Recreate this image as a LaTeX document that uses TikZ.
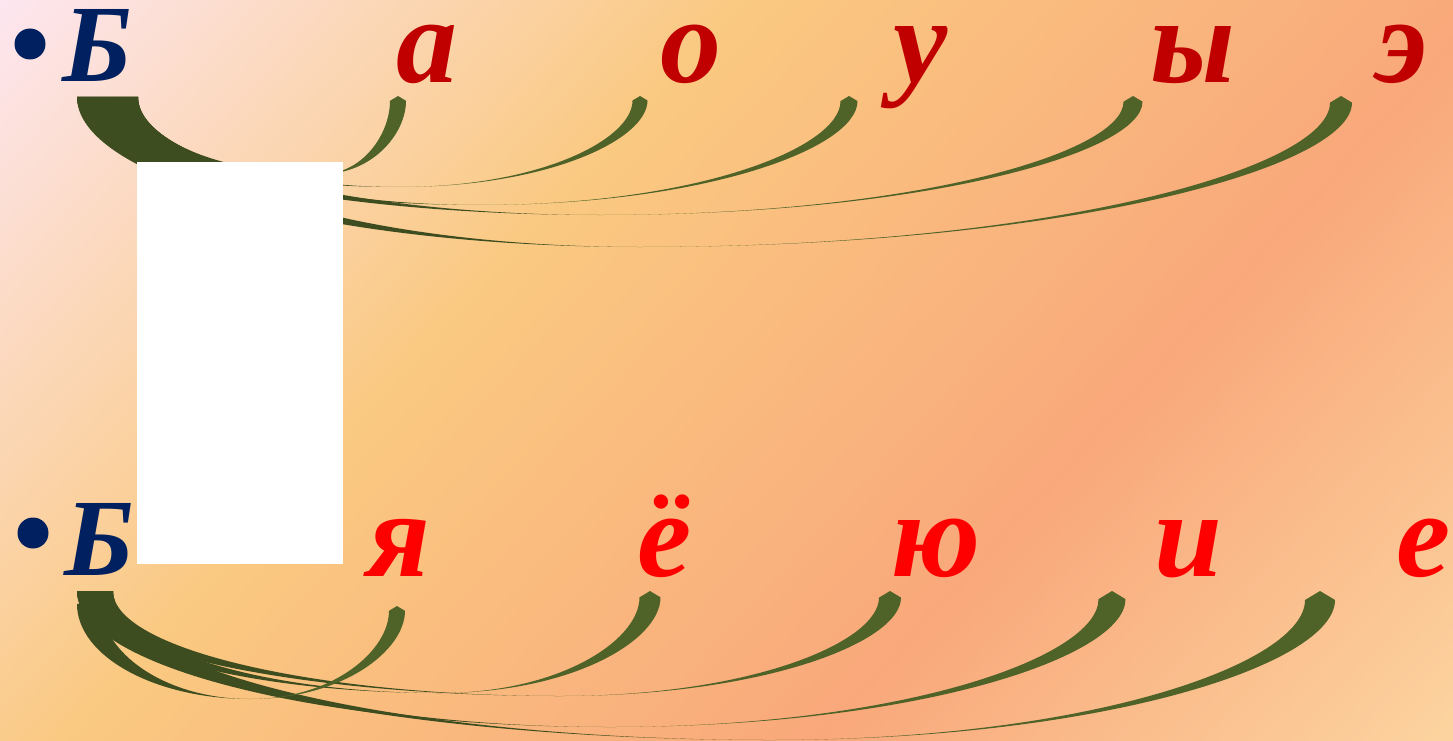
\documentclass[tikz,border=0pt]{standalone}
\usepackage{fontspec}
\setmainfont{Liberation Serif}
\definecolor{bgA}{HTML}{FDE6F0}
\definecolor{bgB}{HTML}{FAC981}
\definecolor{bgC}{HTML}{F9A87B}
\definecolor{bgD}{HTML}{FCD49F}
\definecolor{navy}{HTML}{002060}
\definecolor{dred}{HTML}{C00000}
\definecolor{bred}{HTML}{FF0000}
\definecolor{olivedk}{HTML}{3E4D1F}
\definecolor{olivelt}{HTML}{4F6228}
\pgfdeclarehorizontalshading{bgsh}{100bp}{color(0bp)=(bgA); color(25bp)=(bgA); color(42.5bp)=(bgB); color(60bp)=(bgC); color(75bp)=(bgD); color(100bp)=(bgD)}
% left half of a tapered curve: Slx Sly Srx Sry Mx My
\newcommand\lefthalf[6]{%
  \fill[olivedk] (#1,#2) .. controls (#1,{#2+0.55*(#6-#2)}) and ({#5-0.55*(#5-#1)},#6) .. (#5,#6)
    .. controls ({#5-0.55*(#5-#3)},#6) and (#3,{#4+0.55*(#6-#4)}) .. (#3,#4) -- cycle;}
% right half: Mx My apexx apexy width
\newcommand\righthalf[5]{%
  \fill[olivelt] (#1,#2) .. controls ({#1+0.6*(#3+0.5*#5-#1)},#2) and ({#3+0.5*#5},{#4+0.3*#5+0.45*(#2-#4-0.3*#5)}) .. ({#3+0.5*#5},{#4+0.3*#5})
    -- (#3,#4) -- ({#3-0.5*#5},{#4+0.3*#5})
    .. controls ({#3-0.5*#5},{#4+0.3*#5+0.45*(#2-#4-0.3*#5)}) and ({#1+0.6*(#3-0.5*#5-#1)},#2) .. (#1,#2) -- cycle;}
\tikzset{
  letter/.style={inner sep=0pt, anchor=base, text height=62pt, text depth=4pt},
  capB/.style={letter, text=navy, font=\fontsize{110}{110}\selectfont\bfseries\itshape},
  topl/.style={letter, text=dred, font=\fontsize{122}{122}\selectfont\bfseries\itshape},
  botl/.style={letter, text=bred, font=\fontsize{122}{122}\selectfont\bfseries\itshape},
  bullet/.style={circle, fill=navy, inner sep=0pt, minimum size=31pt},
  cover/.style={fill=white, draw=none}
}
\begin{document}
\begin{tikzpicture}[x=1pt,y=-1pt]
\useasboundingbox (0,0) rectangle (1453,741);
% background
\begin{scope}
  \clip (0,0) rectangle (1453,741);
  \begin{scope}[transform canvas={rotate=-42.5}]
    \shade[shading=bgsh] (0,-1300) rectangle (1575,1300);
  \end{scope}
\end{scope}
% top row curves (Б side)
\lefthalf{77}{97}{138}{97}{322}{174}
\lefthalf{77}{97}{138}{97}{400}{187}
\lefthalf{77}{97}{138}{97}{480}{205}
\lefthalf{77}{97}{138}{97}{600}{215}
\lefthalf{77}{97}{138}{97}{640}{247}
% bottom row curves (Б side)
\lefthalf{77}{604}{100}{600}{250}{699}
\lefthalf{77}{591}{113}{591}{440}{693}
\lefthalf{77}{591}{113}{591}{560}{696}
\lefthalf{77}{591}{113}{591}{610}{727}
\lefthalf{77}{591}{113}{591}{770}{740}
% top row curves (letter side)
\righthalf{322}{174}{398}{96}{16}
\righthalf{400}{187}{640}{96}{15}
\righthalf{480}{205}{849}{96}{17}
\righthalf{600}{215}{1133}{96}{19}
\righthalf{640}{247}{1341}{96}{22}
% bottom row curves (letter side)
\righthalf{250}{699}{397}{606}{16}
\righthalf{440}{693}{650}{591}{21}
\righthalf{560}{696}{890}{591}{22}
\righthalf{610}{727}{1112}{591}{27}
\righthalf{770}{740}{1320}{591}{30}
% letters
\node[bullet] (b1) at (30,44) {};
\node[capB] (B1) at (97,82) {Б};
\node[topl] (a) at (427,83) {а};
\node[topl] (o) at (691,83) {о};
\node[topl] (u) at (921,83) {у};
\node[topl] (y) at (1193,83) {ы};
\node[topl] (e3) at (1402,83) {э};
\node[bullet] (b2) at (33,533) {};
\node[capB] (B2) at (99,575) {Б};
\node[botl] (ya) at (399,576) {я};
\node[botl] (yo) at (665,576) {ё};
\node[botl] (yu) at (936,576) {ю};
\node[botl] (i) at (1188,576) {и};
\node[botl] (e) at (1424,576) {е};
% white rectangle
\fill[cover] (137,162) rectangle (343,564);
\end{tikzpicture}
\end{document}
